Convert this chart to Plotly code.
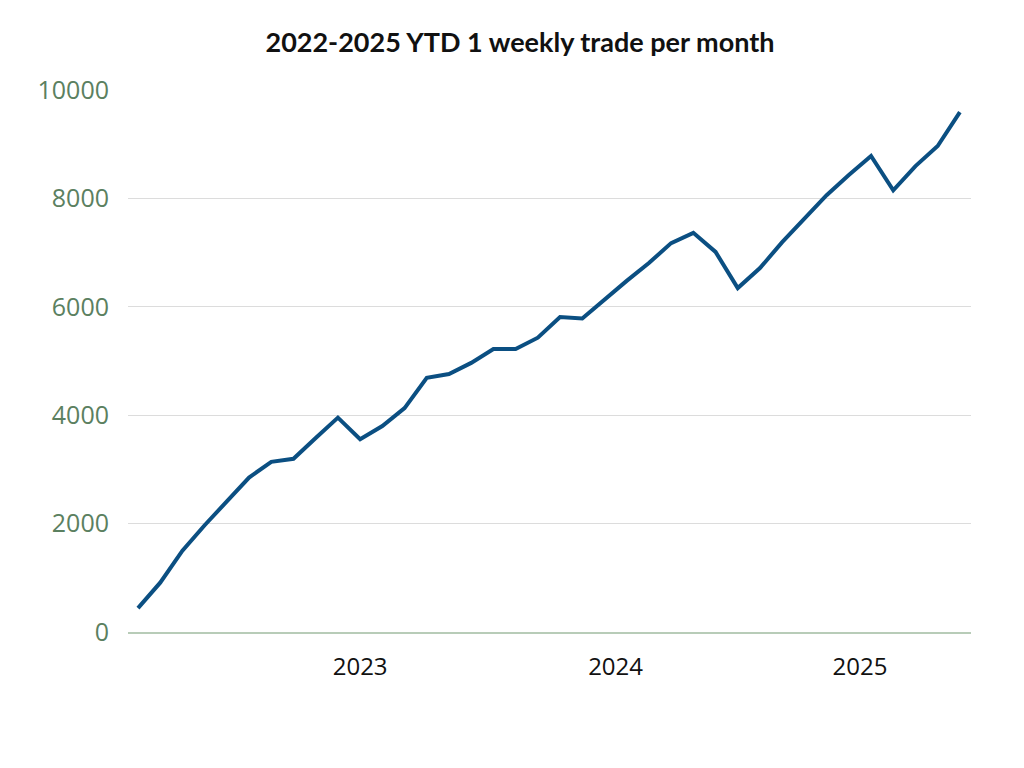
import plotly.graph_objects as go

# Monthly points, Sep 2022 .. Oct 2025
months = ["2022-09", "2022-10", "2022-11", "2022-12",
          "2023-01", "2023-02", "2023-03", "2023-04", "2023-05", "2023-06",
          "2023-07", "2023-08", "2023-09", "2023-10", "2023-11", "2023-12",
          "2024-01", "2024-02", "2024-03", "2024-04", "2024-05", "2024-06",
          "2024-07", "2024-08", "2024-09", "2024-10", "2024-11", "2024-12",
          "2025-01", "2025-02", "2025-03", "2025-04", "2025-05", "2025-06",
          "2025-07", "2025-08", "2025-09", "2025-10"]
values = [440, 910, 1500, 1970, 2410, 2850, 3140, 3195, 3580, 3955,
          3558, 3800, 4130, 4690, 4760, 4965, 5221, 5220, 5430, 5810,
          5785, 6140, 6478, 6808, 7175, 7365, 7013, 6345, 6714, 7193,
          7635, 8060, 8430, 8782, 8150, 8596, 8966, 9590]
year_labels = ["2023", "2024", "2025"]
y_ticks = [0, 2000, 4000, 6000, 8000, 10000]
y_ticktext = [str(v) for v in y_ticks]

idx = list(range(len(months)))

# year label positions: centre of each year's months (2023 label sits near mid-year)
def centre(year):
    ii = [i for i, m in enumerate(months) if m.startswith(year)]
    return (ii[0] + ii[-1]) / 2

year_pos = [centre(y) for y in year_labels]
year_pos[0] = year_pos[0] + 0.5

fig = go.Figure()
fig.add_trace(go.Scatter(
    x=idx, y=values, mode="lines",
    line=dict(color="#0b4f82", width=4),
    hovertext=months, showlegend=False,
))

fig.update_layout(
    width=1024, height=768,
    paper_bgcolor="white", plot_bgcolor="white",
    margin=dict(l=120, r=61, t=82, b=144),
    title=dict(text="<b>2022-2025 YTD 1 weekly trade per month</b>",
               x=0.5, xanchor="center", y=0.955, yanchor="middle",
               font=dict(family="Lato", size=27, color="#111111")),
    xaxis=dict(
        range=[-0.45, len(months) - 0.5],
        showgrid=False, zeroline=False,
        showline=True, linecolor="#b8ccb8", linewidth=1.5,
        tickmode="array", tickvals=year_pos, ticktext=year_labels,
        ticks="", ticklabelstandoff=12,
        tickfont=dict(family="Open Sans", size=24, color="#111111"),
    ),
    yaxis=dict(
        range=[0, 10000],
        tickmode="array", tickvals=y_ticks, ticktext=y_ticktext,
        showgrid=True, gridcolor="#dcdcdc", gridwidth=1,
        zeroline=False, showline=False,
        ticks="", ticklabelstandoff=18,
        tickfont=dict(family="Open Sans", size=25, color="#5b8060"),
    ),
)

fig.write_html("out.html")
